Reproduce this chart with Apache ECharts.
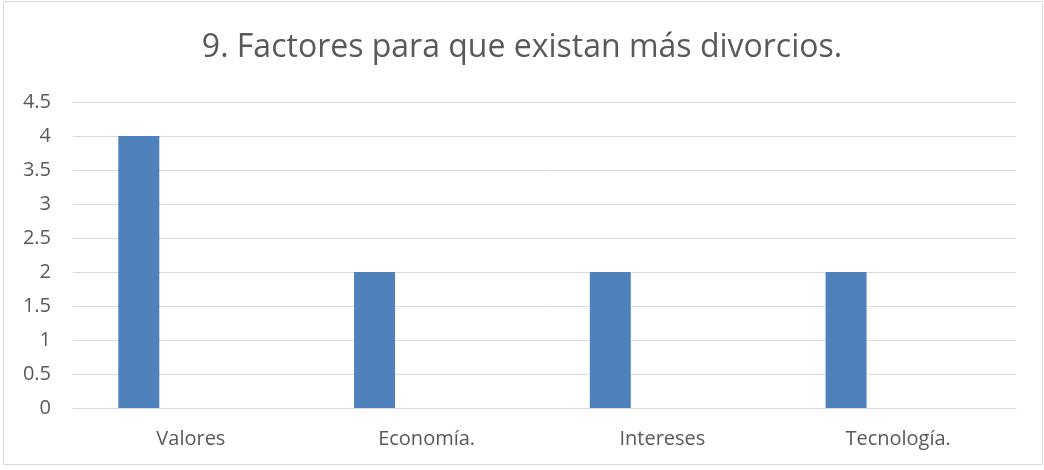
<!DOCTYPE html>
<html><head><meta charset="utf-8">
<script src="https://cdn.jsdelivr.net/npm/echarts@6/dist/echarts.min.js"></script>
<style>html,body{margin:0;padding:0;background:#fff}#c{width:1044px;height:470px}</style>
</head><body><div id="c"></div>
<script>
const title = '9. Factores para que existan más divorcios.';
const categories = ['Valores', 'Economía.', 'Intereses', 'Tecnología.'];
const series1 = [4, 2, 2, 2];
const series2 = ['-', '-', '-', '-'];
const series3 = ['-', '-', '-', '-'];
const yTicks = [0, 0.5, 1, 1.5, 2, 2.5, 3, 3.5, 4, 4.5];

const FONT = 'Open Sans';
const chart = echarts.init(document.getElementById('c'), null, {renderer: 'canvas'});
chart.setOption({
  animation: false,
  backgroundColor: '#fff',
  title: {
    text: title, left: 'center', top: 27,
    textStyle: {fontFamily: FONT, fontSize: 32, fontWeight: 'normal', color: '#595959'}
  },
  graphic: [{
    type: 'rect', shape: {x: 3.5, y: 1.5, width: 1039, height: 463},
    style: {fill: 'none', stroke: '#d9d9d9', lineWidth: 1}, silent: true
  }],
  grid: {left: 73, right: 28, top: 102, bottom: 62, containLabel: false},
  xAxis: {
    type: 'category', data: categories,
    axisLine: {show: true, lineStyle: {color: '#d9d9d9', width: 1}},
    axisTick: {show: false},
    axisLabel: {fontFamily: FONT, fontSize: 20, color: '#595959', margin: 21}
  },
  yAxis: {
    type: 'value', min: yTicks[0], max: yTicks[yTicks.length - 1], interval: 0.5,
    axisLine: {show: false}, axisTick: {show: false},
    axisLabel: {fontFamily: FONT, fontSize: 20, color: '#595959', margin: 22},
    splitLine: {lineStyle: {color: '#d9d9d9', width: 1}}
  },
  series: [
    {type: 'bar', data: series1, barWidth: 41, barGap: '27%', itemStyle: {color: '#4f81bd'}},
    {type: 'bar', data: series2, barWidth: 41, barGap: '27%', itemStyle: {color: '#c0504d'}},
    {type: 'bar', data: series3, barWidth: 41, barGap: '27%', itemStyle: {color: '#9bbb59'}}
  ]
});
</script></body></html>
